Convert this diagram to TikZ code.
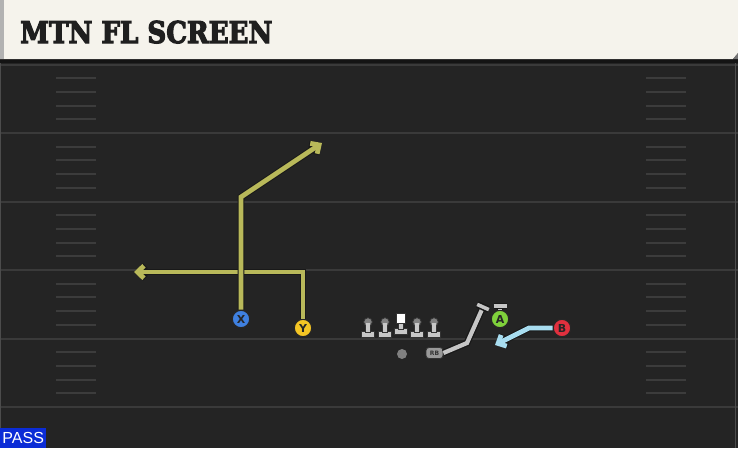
\documentclass[tikz,border=0pt]{standalone}
\usepackage{fontspec}
\usepackage{graphicx}
\setmainfont{DejaVu Serif}
\newfontfamily\titlefont{DejaVu Serif}[FakeBold=4]
\newfontfamily\passfont{Liberation Sans}
\newfontfamily\labfont{DejaVu Sans}
\usetikzlibrary{arrows.meta,calc}
\definecolor{fieldbg}{HTML}{242424}
\definecolor{yardline}{HTML}{3A3A3A}
\definecolor{hashc}{HTML}{3C3C3C}
\definecolor{headbg}{HTML}{F5F3EC}
\definecolor{routey}{HTML}{B9B95A}
\definecolor{routeb}{HTML}{A8DDF0}
\definecolor{routeg}{HTML}{C6C6C6}
\definecolor{xblue}{HTML}{3F80E0}
\definecolor{yyellow}{HTML}{F4C524}
\definecolor{agreen}{HTML}{7FD13B}
\definecolor{bred}{HTML}{E0303E}
\definecolor{passblue}{HTML}{0B2CD6}
\definecolor{olgray}{HTML}{C8C8C8}
\tikzset{
  player/.style={circle, minimum size=17.5pt, inner sep=0pt, draw=black!85, line width=1.2pt,
    font=\labfont\bfseries\fontsize{11}{11}\selectfont, text=black!85},
  route/.style={line width=4.8pt, line join=miter, line cap=butt,
    preaction={draw=black!90, line width=6.8pt}},
  barbtip/.style={-{Straight Barb[length=6.5pt,width=12.5pt]}},
  yardln/.style={draw=yardline, line width=2pt},
  hashln/.style={draw=hashc, line width=2pt},
  pawn/.style={fill=olgray, draw=black!80, line width=0.8pt}
}
\begin{document}
\begin{tikzpicture}[x=1pt,y=-1pt]
\useasboundingbox (0,0) rectangle (738,448);
% field
\fill[fieldbg] (0,0) rectangle (738,448);
\foreach \yy in {64.5,133,201.5,270,338.5,407} {\draw[yardln] (0,\yy) -- (738,\yy);}
\foreach \yy in {64.5,133,201.5,270,338.5} {
  \foreach \k in {1,2,3,4} {
    \draw[hashln] (56,\yy+\k*13.7) -- (96,\yy+\k*13.7);
    \draw[hashln] (646,\yy+\k*13.7) -- (686,\yy+\k*13.7);
  }
}
\draw[draw=black!70!white, line width=1pt] (0.5,60) -- (0.5,448);
\draw[draw=black!70!white, line width=1pt] (735,60) -- (735,448);
% header
\fill[black!92] (0,58) rectangle (738,63);
\fill[headbg] (0,0) -- (738,0) -- (738,53) -- (733,59) -- (0,59) -- cycle;
\fill[black!30] (0,0) rectangle (4,59);
\fill[black!55] (738,53) -- (733,59) -- (738,59) -- cycle;
\node[anchor=base west, inner sep=0pt, text=black!88] (title) at (20,43)
  {\scalebox{0.87}[1]{\titlefont\fontsize{30}{30}\selectfont\bfseries MTN FL SCREEN}};
% players
\node[player, fill=xblue] (X) at (241,319) {X};
\node[player, fill=yyellow] (Y) at (303,328) {Y};
\node[player, fill=agreen] (A) at (500,319) {A};
\node[player, fill=bred] (B) at (562,328) {B};
% routes
\coordinate (xbreak) at (241,197);
\coordinate (xend) at (322,143);
\coordinate (ybreak) at (303,272);
\coordinate (yend) at (134,272);
\draw[route, draw=routey, barbtip] (Y.north) -- (ybreak) -- (yend);
\draw[route, draw=routey, barbtip] (X.north) -- (xbreak) -- (xend);
\coordinate (bbreak) at (529,328);
\coordinate (bend) at (495,345);
\draw[route, draw=routeb, barbtip] (B.west) -- (bbreak) -- (bend);
% offensive line
\foreach \px in {368,385,417,434} {
  \fill[pawn] (\px-6.5,331.5) rectangle (\px+6.5,337.5);
  \fill[pawn] (\px-2.8,323) rectangle (\px+2.8,332);
  \fill[black!35!olgray, draw=black!80, line width=0.8pt] (\px,322) circle (4.3);
  \fill[olgray] (\px-2,323) rectangle (\px+2,331.5);
}
\fill[pawn] (394.5,328.5) rectangle (407.5,334.5);
\fill[pawn] (398.2,322) rectangle (403.8,329);
\node[draw=black!80, fill=white, line width=0.8pt, minimum width=9pt, minimum height=9.5pt, inner sep=0pt] (C) at (401,318.3) {};
\node[circle, fill=black!50, minimum size=10pt, inner sep=0pt] (QB) at (402,354) {};
% RB and route
\node[rounded corners=3pt, fill=black!40!white, draw=black!80, line width=0.8pt, minimum width=17pt, minimum height=11pt, inner sep=0pt,
  font=\labfont\bfseries\fontsize{6}{6}\selectfont, text=black!80] (RB) at (434.5,353) {RB};
\coordinate (rbbreak) at (467,343);
\coordinate (rbend) at (483,307);
\draw[route, draw=routeg, line width=4.2pt] (RB.east) -- (rbbreak) -- (rbend);
\draw[route, draw=routeg, line width=3.6pt] ($(rbend)+(-5.8,-2.6)$) -- ($(rbend)+(5.8,2.6)$);
% A block
\coordinate (ablk) at (500,306);
\draw[route, draw=routeg, line width=3.2pt] (ablk) -- (A.north);
\draw[route, draw=routeg, line width=4pt] (493.5,306) -- (506.5,306);
% PASS label
\node[fill=passblue, anchor=south west, minimum width=46pt, minimum height=20pt, inner sep=0pt,
  text=white, font=\passfont\fontsize{16}{16}\selectfont] (pass) at (0,448) {PASS};
\end{tikzpicture}
\end{document}
